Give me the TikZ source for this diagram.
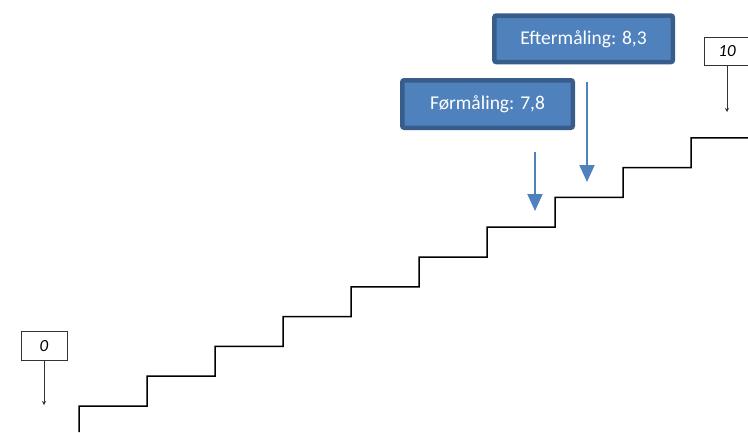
\documentclass[tikz,border=0pt]{standalone}
\usepackage{fontspec}
\setmainfont{Carlito}
\usetikzlibrary{arrows.meta}

\definecolor{boxfill}{HTML}{4F81BD}
\definecolor{boxline}{HTML}{385D8A}

\tikzset{
	mark box/.style={draw=black!80, line width=0.7pt, fill=white, minimum width=46pt, minimum height=29pt, inner sep=0pt, font=\fontsize{17}{17}\selectfont\itshape},
	score box/.style={draw=boxline, line width=4.5pt, fill=boxfill, rounded corners=2pt, text=white, inner sep=0pt, font=\fontsize{19.5}{20}\selectfont},
	score arrow/.style={draw=boxfill, line width=2pt, -{Triangle[length=17pt, width=15pt]}},
	mark arrow/.style={draw=black!80, line width=0.7pt, -{Stealth[length=4pt, width=4pt]}}
}

\begin{document}
\begin{tikzpicture}[x=1pt, y=-1pt]
		\useasboundingbox (0, 0) rectangle (748, 432);
		
		% the staircase: 9 steps up from 0 towards 10
		\draw[line width=1.5pt, line join=miter] (79, 432) -- (79, 406)
		\foreach \i in {1,...,9} { -- ++(68, 0) -- ++(0, -29.8) } -- (748, 137.8);
		
		% end marks
		\node[mark box] (zero) at (44, 345.7) {0};
		\node[mark box, minimum height=28pt] (ten) at (727, 51) {10};
		\coordinate (zerotip) at (44, 405);
		\coordinate (tentip) at (727, 112);
		\draw[mark arrow] (zero) -- (zerotip);
		\draw[mark arrow] (ten) -- (tentip);
		
		% before and after
		\node[score box, minimum width=178.5pt, minimum height=46.5pt] (eft) at (583.6, 38.8) {Eftermåling: 8,3};
		\node[score box, minimum width=170.5pt, minimum height=47.5pt] (for) at (487.5, 104) {Førmåling: 7,8};
		\coordinate (efttop) at (587, 82);
		\coordinate (eftbot) at (587, 182);
		\coordinate (fortop) at (535, 152);
		\coordinate (forbot) at (535, 211);
		\draw[score arrow] (efttop) -- (eftbot);
		\draw[score arrow] (fortop) -- (forbot);
	\end{tikzpicture}
\end{document}
